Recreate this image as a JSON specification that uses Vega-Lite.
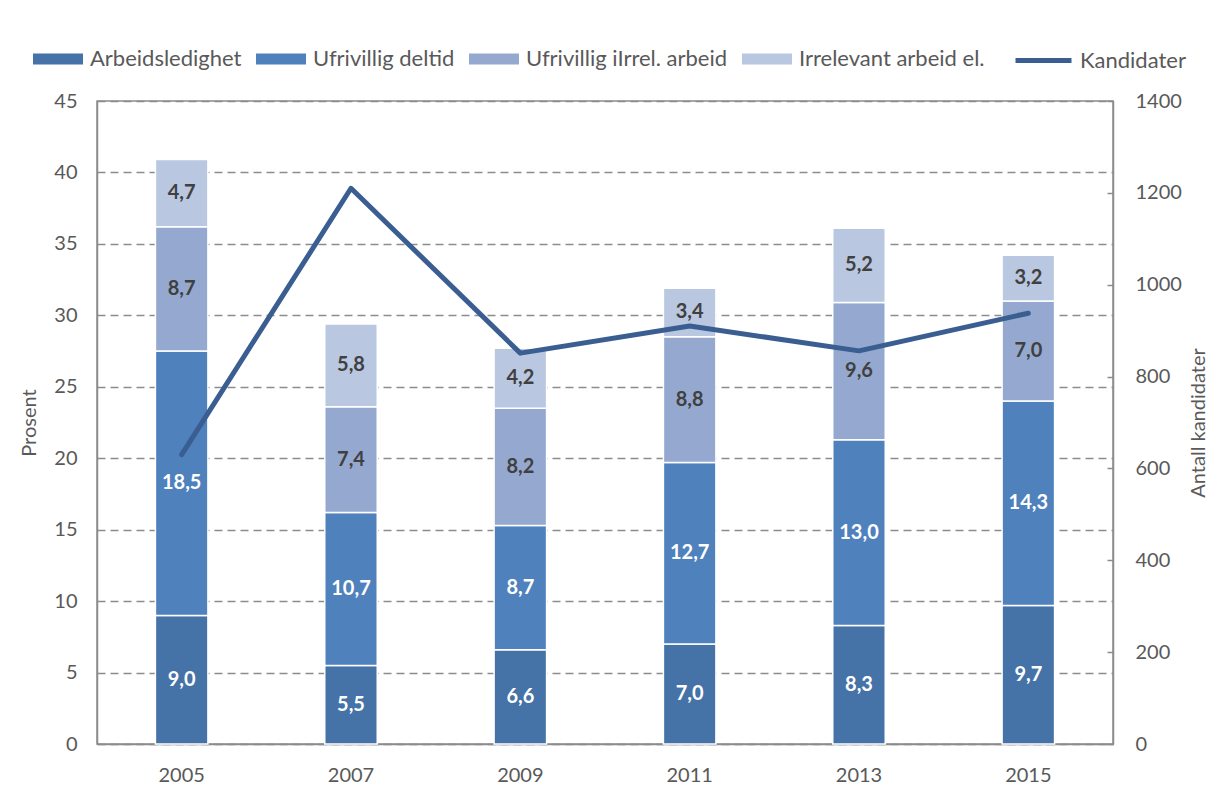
{
  "$schema": "https://vega.github.io/schema/vega-lite/v6.json",
  "width": 1016,
  "height": 643,
  "autosize": {"type": "none"},
  "padding": {"left": 97, "top": 101, "right": 95, "bottom": 55},
  "background": "white",
  "config": {
    "font": "Lato",
    "view": {"stroke": "#8c8c8c", "strokeWidth": 1.5},
    "axis": {"labelFont": "Lato", "titleFont": "Lato", "labelColor": "#595959", "titleColor": "#595959", "labelFontSize": 20, "titleFontSize": 20, "titleFontWeight": "normal"},
    "legend": {"labelFont": "Lato", "labelFontSize": 22, "labelColor": "#595959", "labelLimit": 400}
  },
  "datasets": {
    "bars": [
      {"year": "2005", "cat": "Arbeidsledighet", "order": 1, "value": 9.0},
      {"year": "2005", "cat": "Ufrivillig deltid", "order": 2, "value": 18.5},
      {"year": "2005", "cat": "Ufrivillig iIrrel. arbeid", "order": 3, "value": 8.7},
      {"year": "2005", "cat": "Irrelevant arbeid el.", "order": 4, "value": 4.7},
      {"year": "2007", "cat": "Arbeidsledighet", "order": 1, "value": 5.5},
      {"year": "2007", "cat": "Ufrivillig deltid", "order": 2, "value": 10.7},
      {"year": "2007", "cat": "Ufrivillig iIrrel. arbeid", "order": 3, "value": 7.4},
      {"year": "2007", "cat": "Irrelevant arbeid el.", "order": 4, "value": 5.8},
      {"year": "2009", "cat": "Arbeidsledighet", "order": 1, "value": 6.6},
      {"year": "2009", "cat": "Ufrivillig deltid", "order": 2, "value": 8.7},
      {"year": "2009", "cat": "Ufrivillig iIrrel. arbeid", "order": 3, "value": 8.2},
      {"year": "2009", "cat": "Irrelevant arbeid el.", "order": 4, "value": 4.2},
      {"year": "2011", "cat": "Arbeidsledighet", "order": 1, "value": 7.0},
      {"year": "2011", "cat": "Ufrivillig deltid", "order": 2, "value": 12.7},
      {"year": "2011", "cat": "Ufrivillig iIrrel. arbeid", "order": 3, "value": 8.8},
      {"year": "2011", "cat": "Irrelevant arbeid el.", "order": 4, "value": 3.4},
      {"year": "2013", "cat": "Arbeidsledighet", "order": 1, "value": 8.3},
      {"year": "2013", "cat": "Ufrivillig deltid", "order": 2, "value": 13.0},
      {"year": "2013", "cat": "Ufrivillig iIrrel. arbeid", "order": 3, "value": 9.6},
      {"year": "2013", "cat": "Irrelevant arbeid el.", "order": 4, "value": 5.2},
      {"year": "2015", "cat": "Arbeidsledighet", "order": 1, "value": 9.7},
      {"year": "2015", "cat": "Ufrivillig deltid", "order": 2, "value": 14.3},
      {"year": "2015", "cat": "Ufrivillig iIrrel. arbeid", "order": 3, "value": 7.0},
      {"year": "2015", "cat": "Irrelevant arbeid el.", "order": 4, "value": 3.2}
    ],
    "kand": [
      {"year": "2005", "n": 630},
      {"year": "2007", "n": 1210},
      {"year": "2009", "n": 851},
      {"year": "2011", "n": 910},
      {"year": "2013", "n": 856},
      {"year": "2015", "n": 938}
    ]
  },
  "layer": [
    {
      "data": {"name": "bars"},
      "mark": {"type": "bar", "stroke": "white", "strokeWidth": 1.5},
      "encoding": {
        "x": {"field": "year", "type": "ordinal", "scale": {"paddingInner": 0.69, "paddingOuter": 0.345},
              "axis": {"title": null, "labelAngle": 0, "ticks": false, "labelPadding": 21, "domainColor": "#8c8c8c", "domainWidth": 1.5}},
        "y": {"field": "value", "type": "quantitative", "stack": "zero", "scale": {"domain": [0, 45], "nice": false},
              "axis": {"orient": "left", "title": "Prosent", "values": [0, 5, 10, 15, 20, 25, 30, 35, 40, 45], "ticks": false, "labelPadding": 20, "titlePadding": 14,
                       "domainColor": "#8c8c8c", "domainWidth": 1.5, "grid": true, "gridDash": [8, 5], "gridColor": "#8c8c8c", "gridWidth": 1.5}},
        "color": {"field": "cat", "type": "nominal",
                  "scale": {"domain": ["Arbeidsledighet", "Ufrivillig deltid", "Ufrivillig iIrrel. arbeid", "Irrelevant arbeid el."],
                            "range": ["#4572A7", "#4F81BD", "#95A9D0", "#B9C7E1"]},
                  "legend": {"title": null, "orient": "none", "direction": "horizontal", "columns": 4, "legendX": -64, "legendY": -67,
                             "symbolType": "M-1,-0.22H1V0.22H-1Z", "symbolSize": 2500, "symbolStrokeWidth": 0, "labelOffset": 7, "columnPadding": 14}},
        "order": {"field": "order", "type": "quantitative"}
      }
    },
    {
      "data": {"name": "kand"},
      "mark": {"type": "line", "strokeWidth": 5, "strokeCap": "round", "strokeJoin": "round"},
      "encoding": {
        "x": {"field": "year", "type": "ordinal"},
        "y": {"field": "n", "type": "quantitative", "scale": {"domain": [0, 1400], "nice": false},
              "axis": {"orient": "right", "title": "Antall kandidater", "values": [0, 200, 400, 600, 800, 1000, 1200, 1400], "format": "d", "grid": false,
                       "tickSize": -6, "tickColor": "#8c8c8c", "tickWidth": 1.5, "labelPadding": 28, "titleAngle": 270, "titlePadding": 27,
                       "domainColor": "#8c8c8c", "domainWidth": 1.5}},
        "stroke": {"datum": "Kandidater", "type": "nominal", "scale": {"range": ["#3A5E91"]},
                   "legend": {"title": null, "orient": "none", "legendX": 916, "legendY": -71, "symbolType": "stroke", "symbolSize": 3136,
                              "symbolStrokeWidth": 5, "labelOffset": 6}}
      }
    },
    {
      "data": {"name": "bars"},
      "transform": [
        {"stack": "value", "groupby": ["year"], "sort": [{"field": "order"}], "as": ["v0", "v1"]},
        {"calculate": "(datum.v0 + datum.v1) / 2", "as": "mid"},
        {"calculate": "replace(format(datum.value, '.1f'), '.', ',')", "as": "label"}
      ],
      "mark": {"type": "text", "fontSize": 20, "fontWeight": "bold", "baseline": "middle", "align": "center"},
      "encoding": {
        "x": {"field": "year", "type": "ordinal"},
        "y": {"field": "mid", "type": "quantitative", "scale": {"domain": [0, 45], "nice": false}, "axis": null},
        "text": {"field": "label"},
        "color": {"condition": {"test": "datum.order <= 2", "value": "white"}, "value": "#404040"}
      }
    }
  ],
  "resolve": {"scale": {"y": "independent"}}
}
